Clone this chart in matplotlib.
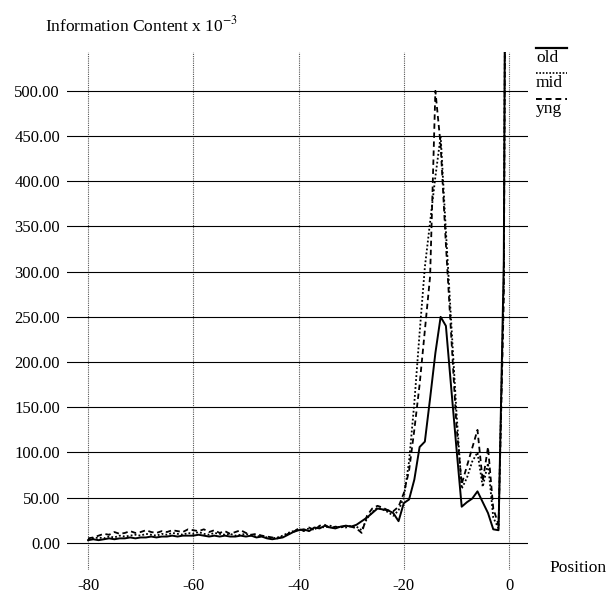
import numpy as np
import matplotlib
matplotlib.use("Agg")
import matplotlib.pyplot as plt
from matplotlib.lines import Line2D

plt.rcParams['font.family'] = ['Liberation Serif', 'DejaVu Serif']
plt.rcParams['mathtext.fontset'] = 'stix'

# positions -80 .. 0
positions = list(range(-80, 1))

old = [3, 4, 3, 4, 5, 4, 5, 5, 6, 5,
       6, 6, 7, 6, 7, 7, 8, 7, 8, 8,
       8, 9, 8, 7, 8, 7, 8, 7, 7, 8,
       7, 8, 6, 7, 5, 4, 5, 6, 9, 12,
       14, 15, 13, 17, 16, 19, 17, 16, 18, 19,
       18, 20, 24, 28, 33, 38, 37, 36, 33, 24,
       44, 48, 70, 106, 112, 160, 210, 250, 240, 172,
       105, 40, 45, 49, 57, 45, 33, 15, 14, 310, 1600]

mid = [4, 5, 6, 5, 7, 6, 8, 7, 8, 9,
       8, 10, 9, 8, 10, 9, 11, 10, 9, 11,
       10, 12, 10, 9, 11, 10, 9, 10, 8, 9,
       10, 8, 7, 8, 6, 5, 6, 8, 11, 13,
       15, 14, 16, 15, 18, 17, 19, 17, 18, 17,
       19, 18, 14, 27, 34, 39, 37, 34, 30, 36,
       50, 90, 155, 232, 305, 355, 405, 450, 345, 245,
       145, 60, 72, 90, 100, 62, 88, 28, 16, 290, 1600]

yng = [5, 6, 8, 10, 9, 12, 10, 11, 13, 11,
       12, 14, 12, 11, 13, 12, 14, 13, 12, 15,
       14, 13, 15, 12, 14, 11, 13, 10, 12, 14,
       11, 9, 10, 8, 7, 6, 5, 7, 10, 12,
       16, 13, 17, 14, 19, 20, 16, 18, 17, 19,
       18, 16, 11, 30, 38, 41, 39, 36, 35, 40,
       55, 80, 125, 175, 235, 295, 500, 440, 330, 230,
       130, 65, 85, 105, 125, 68, 106, 38, 20, 270, 1600]

x_ticks = [-80, -60, -40, -20, 0]
y_ticks = [0, 50, 100, 150, 200, 250, 300, 350, 400, 450, 500]

fig = plt.figure(figsize=(6.08, 5.96), dpi=100)
ax = fig.add_axes([67 / 608, 26 / 596, 461 / 608, 518 / 596])

ax.plot(positions, old, color='black', lw=1.4, ls='-', zorder=3)
ax.plot(positions, mid, color='black', lw=1.3, ls=(0, (1, 1.2)), zorder=3)
ax.plot(positions, yng, color='black', lw=1.3, ls=(0, (3, 2)), zorder=3)

ax.set_xlim(-84, 3.6)
ax.set_ylim(-30, 543)
ax.set_xticks(x_ticks)
ax.set_yticks(y_ticks)
ax.set_xticklabels([str(t) for t in x_ticks])
ax.set_yticklabels(['%.2f' % t for t in y_ticks])
ax.tick_params(length=0, labelsize=12)
ax.tick_params(axis='x', pad=6)
ax.tick_params(axis='y', pad=5)

ax.yaxis.grid(True, color='black', lw=0.8, ls='-')
ax.xaxis.grid(True, color='#555555', lw=0.8, ls=(0, (1, 1)))
ax.set_axisbelow(True)
for s in ax.spines.values():
    s.set_visible(False)

fig.text(45 / 608, 1 - 25 / 596, 'Information Content x 10$^{-3}$',
         fontsize=12.5, va='center', ha='left')
fig.text(549 / 608, 1 - 568 / 596, 'Position', fontsize=12.5, va='center', ha='left')

# legend: overlined labels
leg_styles = [('old', '-', 1.6, 48), ('mid', (0, (1, 1)), 1.2, 73), ('yng', (0, (3, 2)), 1.4, 99)]
for name, ls, lw, ypix in leg_styles:
    yf = 1 - ypix / 596
    fig.add_artist(Line2D([536 / 608, 567 / 608], [yf, yf], color='black', lw=lw, ls=ls,
                          transform=fig.transFigure))
    fig.text(536 / 608, 1 - (ypix + 10) / 596, name, fontsize=12.5, va='center', ha='left')

fig.savefig('out.png', dpi=100)
